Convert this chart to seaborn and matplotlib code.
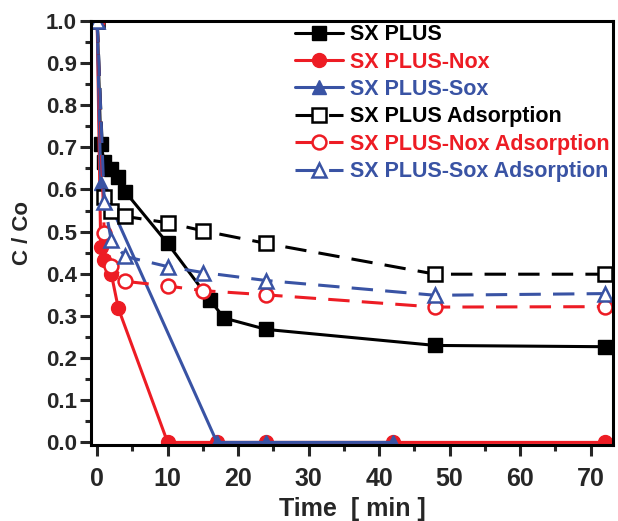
import seaborn as sns
import pandas as pd
import matplotlib.pyplot as plt
from matplotlib.ticker import MultipleLocator

# time [min] and C/Co
t_sx = [0, 0.5, 1, 2, 3, 4, 10, 16, 18, 24, 48, 72]
c_sx = [1.0, 0.708, 0.666, 0.649, 0.630, 0.594, 0.472, 0.338, 0.295, 0.268, 0.230, 0.227]

t_nox = [0, 0.5, 1, 2, 3, 10, 17, 24, 42, 72]
c_nox = [1.0, 0.464, 0.433, 0.400, 0.318, 0.0, 0.0, 0.0, 0.0, 0.0]

t_sox = [0, 0.5, 17, 24, 42]
c_sox = [1.0, 0.615, 0.0, 0.0, 0.0]

t_ads = [0, 1, 2, 4, 10, 15, 24, 48, 72]
c_sx_ads = [1.0, 0.583, 0.550, 0.536, 0.521, 0.502, 0.472, 0.399, 0.399]
c_nox_ads = [1.0, 0.496, 0.419, 0.382, 0.371, 0.360, 0.350, 0.321, 0.322]
c_sox_ads = [1.0, 0.571, 0.479, 0.441, 0.417, 0.403, 0.384, 0.349, 0.353]

labels = ['SX PLUS', 'SX PLUS-Nox', 'SX PLUS-Sox',
          'SX PLUS Adsorption', 'SX PLUS-Nox Adsorption', 'SX PLUS-Sox Adsorption']

BLACK = '#000000'
RED = '#ED1C24'
BLUE = '#3953A4'

sns.set_style('ticks')
plt.rcParams['font.family'] = ['Liberation Sans', 'DejaVu Sans']
plt.rcParams['font.weight'] = 'bold'

fig = plt.figure(figsize=(6.18, 5.21), dpi=100)
ax = fig.add_axes([0.147, 0.146, 0.845, 0.814])

lw = 2.2
solid = dict(linewidth=lw, markersize=10, markeredgewidth=1)
opened = dict(linewidth=lw, markersize=10, markeredgewidth=1.8,
              markerfacecolor='white', dashes=(7, 4))

sns.lineplot(x=t_sx, y=c_sx, ax=ax, color=BLACK, marker='s', markeredgecolor=BLACK,
             label=labels[0], **solid)
sns.lineplot(x=t_nox, y=c_nox, ax=ax, color=RED, marker='o', markeredgecolor=RED,
             label=labels[1], **solid)
sns.lineplot(x=t_sox, y=c_sox, ax=ax, color=BLUE, marker='^', markeredgecolor=BLUE,
             label=labels[2], **solid)
sns.lineplot(x=t_ads, y=c_sx_ads, ax=ax, color=BLACK, marker='s', markeredgecolor=BLACK,
             label=labels[3], **opened)
sns.lineplot(x=t_ads, y=c_nox_ads, ax=ax, color=RED, marker='o', markeredgecolor=RED,
             label=labels[4], **opened)
sns.lineplot(x=t_ads, y=c_sox_ads, ax=ax, color=BLUE, marker='^', markeredgecolor=BLUE,
             label=labels[5], **opened)

ax.set_xlim(-0.9, 73.2)
ax.set_ylim(-0.006, 1.0)
ax.xaxis.set_major_locator(MultipleLocator(10))
ax.xaxis.set_minor_locator(MultipleLocator(5))
ax.yaxis.set_major_locator(MultipleLocator(0.1))
ax.yaxis.set_minor_locator(MultipleLocator(0.05))
ax.yaxis.set_major_formatter(plt.FormatStrFormatter('%.1f'))
ax.tick_params(which='major', length=8, width=2.2, direction='out')
ax.tick_params(which='minor', length=4.5, width=2.2, direction='out')
ax.tick_params(axis='y', labelsize=16, pad=2)
ax.tick_params(axis='x', labelsize=18, pad=8)
for side in ['top', 'right', 'left', 'bottom']:
    ax.spines[side].set_visible(True)
    ax.spines[side].set_linewidth(2.2)
    ax.spines[side].set_color('black')

ax.set_xlabel('Time  [ min ]', fontsize=18, fontweight='bold', labelpad=4)
ax.set_ylabel('C / Co', fontsize=16, fontweight='bold', labelpad=9)

leg = ax.legend(loc='upper right', frameon=False, fontsize=15.5, handlelength=2.2,
                handletextpad=0.35, labelspacing=0.3, borderaxespad=0.0,
                borderpad=0.15)
for txt, c in zip(leg.get_texts(), [BLACK, RED, BLUE, BLACK, RED, BLUE]):
    txt.set_color(c)
    txt.set_fontweight('bold')

fig.savefig('out.png', dpi=100)
